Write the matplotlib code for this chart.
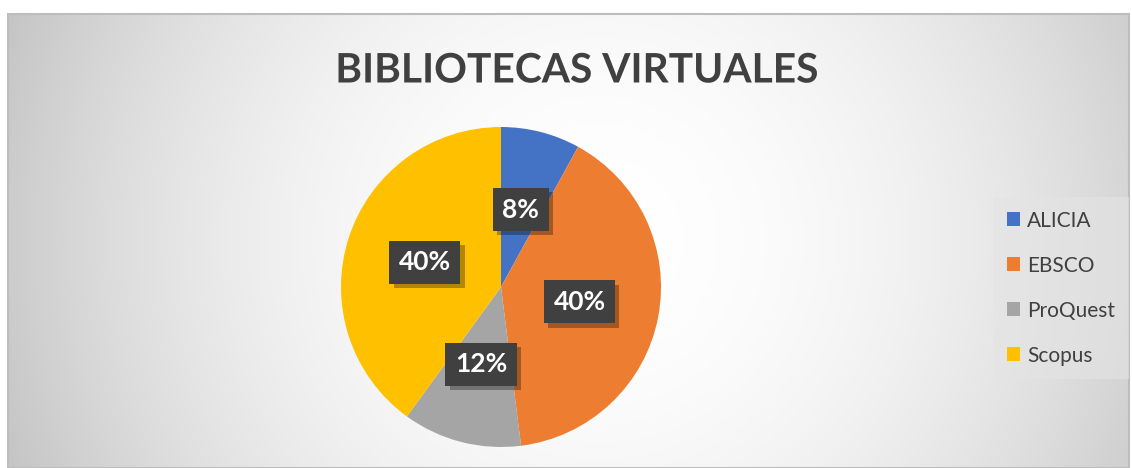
import numpy as np
import matplotlib
matplotlib.use("Agg")
import matplotlib.pyplot as plt
from matplotlib import patheffects as pe
from matplotlib.patches import Rectangle

plt.rcParams['font.family'] = ['Lato', 'DejaVu Sans']

title = "BIBLIOTECAS VIRTUALES"
categories = ["ALICIA", "EBSCO", "ProQuest", "Scopus"]
values = [8, 40, 12, 40]
colors = ["#4472C4", "#ED7D31", "#A5A5A5", "#FFC000"]

W, H = 1132, 468
fig = plt.figure(figsize=(W / 100, H / 100), dpi=100)
ax = fig.add_axes([0, 0, 1, 1])

# background radial gradient panel
px0, px1, py0, py1 = 8, 1129, 0, 454
xs = np.linspace(px0, px1, 560)
ys = np.linspace(py0, py1, 230)
X, Y = np.meshgrid(xs, ys)
cx, cy = 600, H - 240
d2 = (X - cx) ** 2 + (Y - cy) ** 2
g = np.clip(255 - 1.45e-4 * d2, 185, 255) / 255.0
img = np.dstack([g, g, g])
ax.imshow(img, extent=(px0, px1, py0, py1), origin='lower', zorder=0,
          interpolation='bilinear', aspect='auto')
ax.add_patch(Rectangle((px0, py0), px1 - px0, py1 - py0, fill=False,
                       edgecolor='#bdbdbd', linewidth=1.5, zorder=1))

# pie
wedges, _, autotexts = ax.pie(values, colors=colors, startangle=90, counterclock=False,
                              center=(501, H - 287), radius=160, frame=True,
                              autopct=lambda p: f"{p:.0f}%", pctdistance=0.5,
                              wedgeprops=dict(linewidth=0, zorder=2),
                              textprops=dict(color='white', fontsize=19, fontweight='bold'))
ax.set_xlim(0, W)
ax.set_ylim(0, H)
ax.set_aspect('equal')
ax.axis('off')
for t in autotexts:
    t.set_zorder(5)
    t.set_bbox(dict(boxstyle='square,pad=0.36', facecolor='#404040', edgecolor='none',
                    linewidth=0))
    t.get_bbox_patch().set_path_effects([
        pe.SimplePatchShadow(offset=(3, -3), shadow_rgbFace='black', alpha=0.3),
        pe.Normal()])

# title
ax.text(577, H - 71, title, ha='center', va='center', fontsize=29.3, fontweight='bold',
        color='#404040', zorder=5,
        path_effects=[pe.SimpleLineShadow(offset=(1.5, -1.5), alpha=0.25), pe.Normal()])

# legend
leg = ax.legend(wedges, categories, loc='upper left',
                bbox_to_anchor=(993 / W, 1 - 197 / H), borderaxespad=0,
                frameon=True, fancybox=False, fontsize=15, labelspacing=1.2,
                handlelength=0.65, handleheight=0.65, handletextpad=0.35,
                borderpad=0.65, labelcolor='#404040')
leg.get_frame().set_facecolor('#e4e4e4')
leg.get_frame().set_alpha(0.6)
leg.get_frame().set_edgecolor('none')

fig.savefig('out.png', dpi=100, facecolor='white')
